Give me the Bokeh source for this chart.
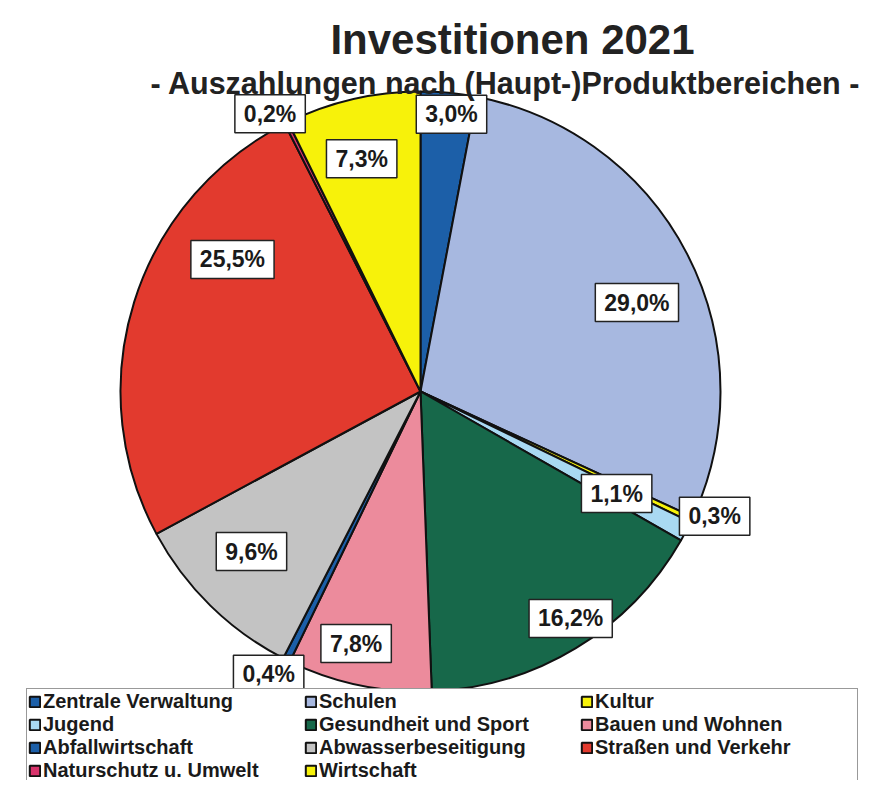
import math
from bokeh.plotting import figure
from bokeh.models import ColumnDataSource, Range1d, Legend, LegendItem, Label
from bokeh.core.properties import value
from bokeh.embed import file_html
from bokeh.resources import INLINE

# ---------------- data ----------------
categories = ["Zentrale Verwaltung", "Schulen", "Kultur", "Jugend",
              "Gesundheit und Sport", "Bauen und Wohnen", "Abfallwirtschaft",
              "Abwasserbeseitigung", "Straßen und Verkehr",
              "Naturschutz u. Umwelt", "Wirtschaft"]
shares = [3.0, 29.0, 0.3, 1.1, 16.2, 7.8, 0.4, 9.6, 25.5, 0.2, 7.3]
share_labels = ["3,0%", "29,0%", "0,3%", "1,1%", "16,2%", "7,8%", "0,4%",
                "9,6%", "25,5%", "0,2%", "7,3%"]
colors = ["#1C5FA8", "#A7B8E0", "#F7F20A", "#A9D9F2", "#17684A", "#EC8B9C",
          "#1C5FA8", "#C3C3C3", "#E23A2E", "#D8336B", "#F7F20A"]

title_text = "Investitionen 2021"
subtitle_text = "- Auszahlungen nach (Haupt-)Produktbereichen -"

# ---------------- layout (styles / positions) ----------------
W, H = 866, 780
CX, CY = 420, 391      # pie centre in figure pixels (from top-left)
R = 300                # pie radius in pixels
label_radius = [0.93, 0.78, 1.065, 0.737, 0.907, 0.867, 1.07, 0.776, 0.766, 1.053, 0.80]
label_nudge_deg = [1.0, 4.9, -2.3, -0.3, -2.3, 2.5, 1.7, 2.1, 17.7, -1.9, -1.1]
FONT = "Liberation Sans"


def fx(px):
    return (px - CX) / R


def fy(py):
    return (CY - py) / R


total = sum(shares)
starts, ends, lx, ly = [], [], [], []
cum = 0.0
for i, s in enumerate(shares):
    a0 = cum / total * 2 * math.pi
    cum += s
    a1 = cum / total * 2 * math.pi
    # clockwise from 12 o'clock -> bokeh anticlockwise angles
    starts.append(math.pi / 2 - a1)
    ends.append(math.pi / 2 - a0)
    mid = (a0 + a1) / 2 + math.radians(label_nudge_deg[i])
    lx.append(label_radius[i] * math.sin(mid))
    ly.append(label_radius[i] * math.cos(mid))

src = ColumnDataSource(dict(start=starts, end=ends, color=colors,
                            name=categories, label=share_labels,
                            lx=lx, ly=ly))

p = figure(width=W, height=H, output_backend="svg", toolbar_location=None,
           x_range=Range1d(-CX / R, (W - CX) / R),
           y_range=Range1d(-(H - CY) / R, CY / R),
           min_border=0, outline_line_color=None)
p.xaxis.visible = False
p.yaxis.visible = False
p.grid.visible = False
p.background_fill_color = "white"
p.border_fill_color = "white"

wr = p.wedge(x=0, y=0, radius=1, start_angle="start", end_angle="end",
             fill_color="color", line_color="#111111", line_width=2,
             source=src)

p.text(x="lx", y="ly", text="label", source=src,
       text_font=value(FONT), text_font_style="bold", text_font_size="23px",
       text_color="#1a1a1a", text_align="center", text_baseline="middle",
       background_fill_color="white", border_line_color="#222222",
       border_line_width=1.5, padding=(9, 6))

p.add_layout(Label(x=fx(512), y=fy(39), text=title_text,
                   text_font=FONT, text_font_style="bold",
                   text_font_size="42px", text_color="#222222",
                   text_align="center", text_baseline="alphabetic"))
p.add_layout(Label(x=fx(505), y=fy(82), text=subtitle_text,
                   text_font=FONT, text_font_style="bold",
                   text_font_size="30.5px", text_color="#222222",
                   text_align="center", text_baseline="alphabetic"))

items = [LegendItem(label=categories[i], renderers=[wr], index=i)
         for i in range(len(categories))]
legend = Legend(items=items, location=(26, -4), orientation="horizontal",
                ncols=3, padding=1, spacing=0, margin=0,
                glyph_width=13, glyph_height=13, label_standoff=2,
                label_width=261, label_height=20,
                label_text_font=FONT, label_text_font_style="bold",
                label_text_font_size="20px", label_text_color="#1a1a1a",
                border_line_color="#333333", border_line_width=1,
                background_fill_color="white", background_fill_alpha=1)
p.add_layout(legend, "center")

open("out.html", "w").write(file_html(p, INLINE))
